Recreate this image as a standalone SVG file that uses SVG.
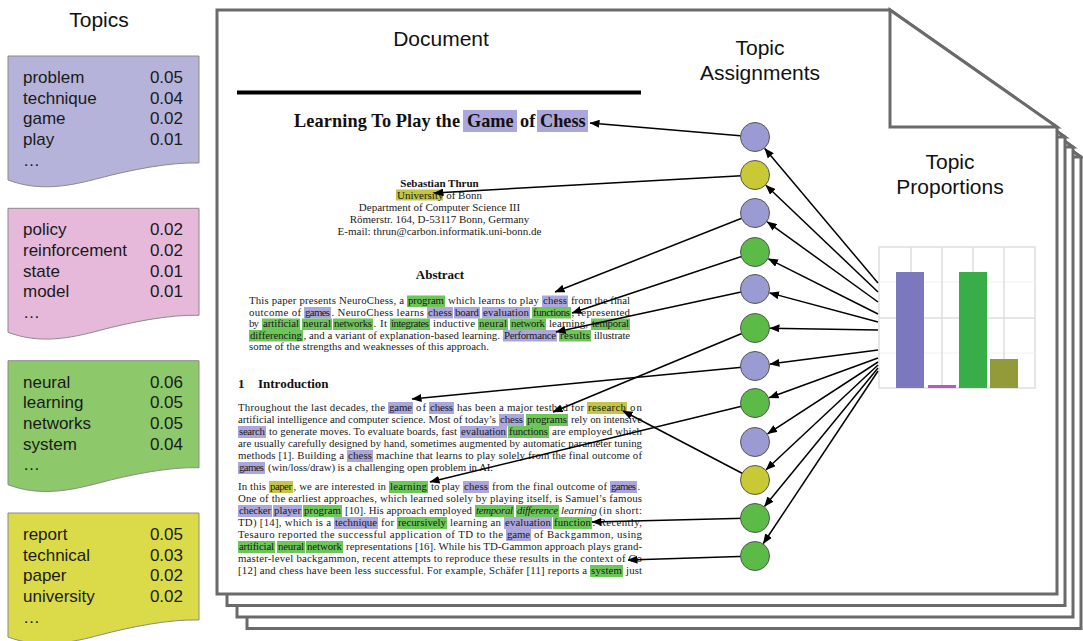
<svg xmlns="http://www.w3.org/2000/svg" width="1083" height="641" viewBox="0 0 1083 641">
<defs>
<marker id="ah" viewBox="0 0 10 8" refX="9.5" refY="4" markerWidth="10" markerHeight="8" markerUnits="userSpaceOnUse" orient="auto"><path d="M0,0 L10,4 L0,8 z" fill="#000"/></marker>
<path id="card" d="M8,0 H199 V107 C170,106 130,114 100,122 C70,130 40,136 8,124 Z"/>
</defs>
<style>
.pg{fill:#fff;stroke:#6a6a6a;stroke-width:3;stroke-linejoin:miter}
.hd{font-family:"Liberation Sans",Arial,sans-serif;font-size:21px;fill:#111}
.tw{font-family:"Liberation Sans",Arial,sans-serif;font-size:17px;fill:#1a1a1a}
.tn{font-family:"Liberation Sans",Arial,sans-serif;font-size:17px;fill:#1a1a1a;text-anchor:end}
.cd{stroke:#8a8a8a;stroke-width:1}
.d{font-family:"Liberation Serif","Times New Roman",serif;font-size:10.8px;fill:#1a1a1a}
.db{font-family:"Liberation Serif","Times New Roman",serif;font-weight:bold;fill:#111}
.dc{font-family:"Liberation Serif","Times New Roman",serif;font-size:11px;fill:#1a1a1a;text-anchor:middle}
.it{font-style:italic}
.hp{fill:#aba7dc}
.hg{fill:#6cc658}
.hy{fill:#c4c446}
.cn{stroke:#000;stroke-width:1.5;fill:none;marker-end:url(#ah)}
.cp{fill:#9b9bd3;stroke:#555;stroke-width:1}
.cy{fill:#c9c935;stroke:#555;stroke-width:1}
.cg{fill:#5cba47;stroke:#555;stroke-width:1}
.gr{stroke:#dedede;stroke-width:1.5;fill:none}
.gf{stroke:#f0f0f0;stroke-width:1;fill:none}
</style>

<g id="pages">
<polygon class="pg" points="247,40 914,40 1081,157 1081,628.5 247,628.5"/>
<polygon class="pg" points="914,40 914,157 1081,157"/>
<polygon class="pg" points="237,30 906,30 1073,147 1073,617 237,617"/>
<polygon class="pg" points="906,30 906,147 1073,147"/>
<polygon class="pg" points="227,20 898,20 1065,137 1065,605.5 227,605.5"/>
<polygon class="pg" points="898,20 898,137 1065,137"/>
<polygon class="pg" points="217,10 890,10 1057,127 1057,594 217,594"/>
<polygon class="pg" points="890,10 890,127 1057,127"/>
</g>

<text class="hd" x="99" y="27" text-anchor="middle">Topics</text>
<text class="hd" x="441" y="46" text-anchor="middle">Document</text>
<text class="hd" x="760" y="55" text-anchor="middle">Topic</text>
<text class="hd" x="760" y="80" text-anchor="middle">Assignments</text>
<text class="hd" x="950" y="169" text-anchor="middle">Topic</text>
<text class="hd" x="950" y="194" text-anchor="middle">Proportions</text>

<g id="topic1" transform="translate(0,56)">
<use href="#card" class="cd" fill="#b6b3da"/>
<text class="tw" x="23" y="27">problem</text><text class="tn" x="183" y="27">0.05</text>
<text class="tw" x="23" y="47.7">technique</text><text class="tn" x="183" y="47.7">0.04</text>
<text class="tw" x="23" y="68.4">game</text><text class="tn" x="183" y="68.4">0.02</text>
<text class="tw" x="23" y="89.1">play</text><text class="tn" x="183" y="89.1">0.01</text>
<text class="tw" x="23" y="109.8">…</text>
</g>
<g id="topic2" transform="translate(0,208.3)">
<use href="#card" class="cd" fill="#e6b9da"/>
<text class="tw" x="23" y="27">policy</text><text class="tn" x="183" y="27">0.02</text>
<text class="tw" x="23" y="47.7">reinforcement</text><text class="tn" x="183" y="47.7">0.02</text>
<text class="tw" x="23" y="68.4">state</text><text class="tn" x="183" y="68.4">0.01</text>
<text class="tw" x="23" y="89.1">model</text><text class="tn" x="183" y="89.1">0.01</text>
<text class="tw" x="23" y="109.8">…</text>
</g>
<g id="topic3" transform="translate(0,360.7)">
<use href="#card" class="cd" fill="#8dc96b"/>
<text class="tw" x="23" y="27">neural</text><text class="tn" x="183" y="27">0.06</text>
<text class="tw" x="23" y="47.7">learning</text><text class="tn" x="183" y="47.7">0.05</text>
<text class="tw" x="23" y="68.4">networks</text><text class="tn" x="183" y="68.4">0.05</text>
<text class="tw" x="23" y="89.1">system</text><text class="tn" x="183" y="89.1">0.04</text>
<text class="tw" x="23" y="109.8">…</text>
</g>
<g id="topic4" transform="translate(0,513)">
<use href="#card" class="cd" fill="#dbdb4a"/>
<text class="tw" x="23" y="27">report</text><text class="tn" x="183" y="27">0.05</text>
<text class="tw" x="23" y="47.7">technical</text><text class="tn" x="183" y="47.7">0.03</text>
<text class="tw" x="23" y="68.4">paper</text><text class="tn" x="183" y="68.4">0.02</text>
<text class="tw" x="23" y="89.1">university</text><text class="tn" x="183" y="89.1">0.02</text>
<text class="tw" x="23" y="109.8">…</text>
</g>

<g id="document">
<rect x="237" y="90.5" width="404" height="4" fill="#000"/>
<!-- title -->
<rect class="hp" x="463" y="110" width="54" height="22"/>
<rect class="hp" x="537" y="110" width="51" height="22"/>
<text class="db" font-size="18.3" x="294" y="127" textLength="166">Learning To Play the</text>
<text class="db" font-size="18.3" x="467" y="127">Game</text>
<text class="db" font-size="18.3" x="520" y="127">of</text>
<text class="db" font-size="18.3" x="540" y="127">Chess</text>
<!-- author -->
<rect class="hy" x="396" y="189.5" width="47" height="11"/>
<text class="db" font-size="11" x="439.5" y="187" text-anchor="middle">Sebastian Thrun</text>
<text class="dc" x="439.5" y="199">University of Bonn</text>
<text class="dc" x="439.5" y="211">Department of Computer Science III</text>
<text class="dc" x="439.5" y="223">Römerstr. 164, D-53117 Bonn, Germany</text>
<text class="dc" x="439.5" y="235">E-mail: thrun@carbon.informatik.uni-bonn.de</text>
<!-- abstract -->
<text class="db" font-size="13" x="440" y="279" text-anchor="middle">Abstract</text>
<rect class="hg" x="407" y="295.5" width="38" height="11.5"/>
<rect class="hp" x="542" y="295.5" width="26" height="11.5"/>
<rect class="hp" x="304" y="307" width="27" height="11.5"/>
<rect class="hp" x="427" y="307" width="26" height="11.5"/>
<rect class="hp" x="454" y="307" width="26" height="11.5"/>
<rect class="hp" x="482" y="307" width="48" height="11.5"/>
<rect class="hg" x="532" y="307" width="39" height="11.5"/>
<rect class="hg" x="262" y="318.5" width="38" height="11.5"/>
<rect class="hg" x="302" y="318.5" width="30" height="11.5"/>
<rect class="hg" x="333" y="318.5" width="40" height="11.5"/>
<rect class="hg" x="390" y="318.5" width="40" height="11.5"/>
<rect class="hg" x="478" y="318.5" width="30" height="11.5"/>
<rect class="hg" x="510" y="318.5" width="36" height="11.5"/>
<rect class="hg" x="591" y="318.5" width="39" height="11.5"/>
<rect class="hg" x="249" y="330" width="54" height="11.5"/>
<rect class="hp" x="503" y="330" width="54" height="11.5"/>
<rect class="hg" x="559" y="330" width="32" height="11.5"/>

<text class="d" x="249" y="304" textLength="155">This paper presents NeuroChess, a</text>
<text class="d" x="408" y="304" textLength="36">program</text>
<text class="d" x="448" y="304" textLength="91">which learns to play</text>
<text class="d" x="543" y="304" textLength="24">chess</text>
<text class="d" x="571" y="304" textLength="59">from the final</text>

<text class="d" x="249" y="315.5" textLength="52">outcome of</text>
<text class="d" x="305" y="315.5" textLength="25">games</text>
<text class="d" x="331.5" y="315.5" textLength="92.5">.  NeuroChess learns</text>
<text class="d" x="428" y="315.5" textLength="24">chess</text>
<text class="d" x="455" y="315.5" textLength="24">board</text>
<text class="d" x="483" y="315.5" textLength="46">evaluation</text>
<text class="d" x="533" y="315.5" textLength="37">functions</text>
<text class="d" x="571.5" y="315.5" textLength="58.5">, represented</text>

<text class="d" x="249" y="327" textLength="10">by</text>
<text class="d" x="263" y="327" textLength="36">artificial</text>
<text class="d" x="303" y="327" textLength="28">neural</text>
<text class="d" x="334" y="327" textLength="38">networks</text>
<text class="d" x="373.5" y="327" textLength="13.5">.  It</text>
<text class="d" x="391" y="327" textLength="38">integrates</text>
<text class="d" x="433" y="327" textLength="42">inductive</text>
<text class="d" x="479" y="327" textLength="28">neural</text>
<text class="d" x="511" y="327" textLength="34">network</text>
<text class="d" x="549" y="327" textLength="39">learning,</text>
<text class="d" x="592" y="327" textLength="37">temporal</text>

<text class="d" x="250" y="338.5" textLength="52">differencing</text>
<text class="d" x="303.5" y="338.5" textLength="196.5">, and a variant of explanation-based learning.</text>
<text class="d" x="504" y="338.5" textLength="52">Performance</text>
<text class="d" x="560" y="338.5" textLength="30">results</text>
<text class="d" x="594" y="338.5" textLength="36">illustrate</text>

<text class="d" x="249" y="350" textLength="240">some of the strengths and weaknesses of this approach.</text>

<!-- introduction -->
<text class="db" font-size="13" x="238" y="388">1</text>
<text class="db" font-size="13" x="258" y="388">Introduction</text>

<rect class="hp" x="388" y="402" width="25" height="12"/>
<rect class="hp" x="429" y="402" width="25" height="12"/>
<rect class="hy" x="587" y="402" width="40" height="12"/>
<rect class="hp" x="499" y="414" width="25" height="12"/>
<rect class="hg" x="526" y="414" width="42" height="12"/>
<rect class="hp" x="238" y="426" width="28" height="12"/>
<rect class="hp" x="460" y="426" width="47" height="12"/>
<rect class="hg" x="508" y="426" width="41" height="12"/>
<rect class="hp" x="347" y="450" width="26" height="12"/>
<rect class="hp" x="238" y="462" width="27" height="12"/>

<text class="d" x="238" y="411" textLength="147">Throughout the last decades, the</text>
<text class="d" x="389" y="411" textLength="23">game</text>
<text class="d" x="416" y="411" textLength="10">of</text>
<text class="d" x="430" y="411" textLength="23">chess</text>
<text class="d" x="457" y="411" textLength="127">has been a major testbed for</text>
<text class="d" x="588" y="411" textLength="38">research</text>
<text class="d" x="630" y="411" textLength="12">on</text>

<text class="d" x="238" y="423" textLength="258">artificial intelligence and computer science.  Most of today’s</text>
<text class="d" x="500" y="423" textLength="23">chess</text>
<text class="d" x="527" y="423" textLength="40">programs</text>
<text class="d" x="571" y="423" textLength="71">rely on intensive</text>

<text class="d" x="239" y="435" textLength="26">search</text>
<text class="d" x="269" y="435" textLength="188">to generate moves.  To evaluate boards, fast</text>
<text class="d" x="461" y="435" textLength="45">evaluation</text>
<text class="d" x="509" y="435" textLength="39">functions</text>
<text class="d" x="552" y="435" textLength="90">are employed which</text>

<text class="d" x="238" y="447" textLength="404">are usually carefully designed by hand, sometimes augmented by automatic parameter tuning</text>

<text class="d" x="238" y="459" textLength="106">methods [1].  Building a</text>
<text class="d" x="348" y="459" textLength="24">chess</text>
<text class="d" x="376" y="459" textLength="266">machine that learns to play solely from the final outcome of</text>

<text class="d" x="239" y="471" textLength="25">games</text>
<text class="d" x="268" y="471" textLength="225">(win/loss/draw) is a challenging open problem in AI.</text>

<rect class="hy" x="269" y="481" width="24" height="12"/>
<rect class="hg" x="389" y="481" width="39" height="12"/>
<rect class="hp" x="463" y="481" width="26" height="12"/>
<rect class="hp" x="610" y="481" width="27" height="12"/>
<rect class="hp" x="238" y="505" width="34" height="12"/>
<rect class="hp" x="273" y="505" width="29" height="12"/>
<rect class="hg" x="303" y="505" width="39" height="12"/>
<rect class="hg" x="475" y="505" width="39" height="12"/>
<rect class="hg" x="516" y="505" width="43" height="12"/>
<rect class="hp" x="334" y="517" width="44" height="12"/>
<rect class="hg" x="397" y="517" width="50" height="12"/>
<rect class="hp" x="504" y="517" width="48" height="12"/>
<rect class="hg" x="553" y="517" width="39" height="12"/>
<rect class="hp" x="506" y="529" width="25" height="12"/>
<rect class="hg" x="238" y="541" width="37" height="12"/>
<rect class="hg" x="277" y="541" width="28" height="12"/>
<rect class="hg" x="306" y="541" width="37" height="12"/>
<rect class="hg" x="590" y="565" width="33" height="12"/>

<text class="d" x="238" y="490" textLength="28">In this</text>
<text class="d" x="270" y="490" textLength="22">paper</text>
<text class="d" x="293.5" y="490" textLength="92.5">, we are interested in</text>
<text class="d" x="390" y="490" textLength="37">learning</text>
<text class="d" x="431" y="490" textLength="29">to play</text>
<text class="d" x="464" y="490" textLength="24">chess</text>
<text class="d" x="492" y="490" textLength="115">from the final outcome of</text>
<text class="d" x="611" y="490" textLength="25">games</text>
<text class="d" x="637.5" y="490">.</text>

<text class="d" x="238" y="502" textLength="404">One of the earliest approaches, which learned solely by playing itself, is Samuel’s famous</text>

<text class="d" x="239" y="514" textLength="32">checker</text>
<text class="d" x="274" y="514" textLength="27">player</text>
<text class="d" x="304" y="514" textLength="37">program</text>
<text class="d" x="345" y="514" textLength="127">[10].  His approach employed</text>
<text class="d it" x="476" y="514" textLength="37">temporal</text>
<text class="d it" x="517" y="514" textLength="41">difference</text>
<text class="d it" x="561" y="514" textLength="36">learning</text>
<text class="d" x="599" y="514" textLength="43">(in short:</text>

<text class="d" x="238" y="526" textLength="93">TD) [14], which is a</text>
<text class="d" x="335" y="526" textLength="42">technique</text>
<text class="d" x="381" y="526" textLength="13">for</text>
<text class="d" x="398" y="526" textLength="48">recursively</text>
<text class="d" x="450" y="526" textLength="51">learning an</text>
<text class="d" x="505" y="526" textLength="46">evaluation</text>
<text class="d" x="554" y="526" textLength="37">function</text>
<text class="d" x="592.5" y="526" textLength="49.5">.  Recently,</text>

<text class="d" x="238" y="538" textLength="265">Tesauro reported the successful application of TD to the</text>
<text class="d" x="507" y="538" textLength="23">game</text>
<text class="d" x="534" y="538" textLength="108">of Backgammon, using</text>

<text class="d" x="239" y="550" textLength="35">artificial</text>
<text class="d" x="278" y="550" textLength="26">neural</text>
<text class="d" x="307" y="550" textLength="35">network</text>
<text class="d" x="346" y="550" textLength="296">representations [16].  While his TD-Gammon approach plays grand-</text>

<text class="d" x="238" y="562" textLength="404">master-level backgammon, recent attempts to reproduce these results in the context of Go</text>

<text class="d" x="238" y="574" textLength="349">[12] and chess have been less successful.  For example, Schäfer [11] reports a</text>
<text class="d" x="591" y="574" textLength="31">system</text>
<text class="d" x="626" y="574" textLength="16">just</text>
</g>

<g id="proportions">
<rect class="gr" x="879" y="247" width="156" height="141"/>
<line class="gf" x1="879" y1="282" x2="1035" y2="282"/>
<line class="gf" x1="879" y1="353" x2="1035" y2="353"/>
<line class="gr" x1="879" y1="318" x2="1035" y2="318"/>
<line class="gr" x1="911" y1="247" x2="911" y2="388"/>
<line class="gr" x1="942" y1="247" x2="942" y2="388"/>
<line class="gr" x1="973" y1="247" x2="973" y2="388"/>
<line class="gr" x1="1004" y1="247" x2="1004" y2="388"/>
<rect x="896" y="272" width="28" height="116" fill="#7b78bd"/>
<rect x="928" y="385" width="28" height="3" fill="#b45cbc"/>
<rect x="959" y="272" width="28" height="116" fill="#39ae48"/>
<rect x="990" y="359" width="28" height="29" fill="#939a3a"/>
</g>

<g id="connectors">
<line class="cn" x1="755" y1="137" x2="590" y2="123"/>
<line class="cn" x1="755" y1="175" x2="434" y2="193"/>
<line class="cn" x1="755" y1="213" x2="555" y2="292"/>
<line class="cn" x1="755" y1="252" x2="572" y2="313"/>
<line class="cn" x1="755" y1="289" x2="556" y2="332"/>
<line class="cn" x1="755" y1="328" x2="553" y2="412"/>
<line class="cn" x1="755" y1="366" x2="412" y2="399"/>
<line class="cn" x1="755" y1="403" x2="430" y2="482"/>
<line class="cn" x1="755" y1="480" x2="623" y2="411"/>
<line class="cn" x1="755" y1="518" x2="592" y2="522"/>
<line class="cn" x1="755" y1="556" x2="628" y2="560"/>
<line class="cn" x1="878" y1="283" x2="764.7" y2="148.5"/>
<line class="cn" x1="878" y1="292" x2="765.9" y2="185.3"/>
<line class="cn" x1="878" y1="302" x2="767.2" y2="221.8"/>
<line class="cn" x1="878" y1="314" x2="768.4" y2="258.8"/>
<line class="cn" x1="878" y1="322" x2="769.5" y2="292.9"/>
<line class="cn" x1="878" y1="330" x2="770" y2="328.2"/>
<line class="cn" x1="878" y1="350" x2="769.9" y2="364.1"/>
<line class="cn" x1="878" y1="358" x2="769.1" y2="397.8"/>
<line class="cn" x1="878" y1="362" x2="767.6" y2="433.8"/>
<line class="cn" x1="878" y1="365" x2="766" y2="469.8"/>
<line class="cn" x1="878" y1="368" x2="764.5" y2="506.4"/>
<line class="cn" x1="878" y1="371" x2="763.3" y2="543.5"/>
</g>

<g id="assignments">
<circle id="z1" class="cp" cx="755" cy="137" r="14.5"/>
<circle id="z2" class="cy" cx="755" cy="175" r="14.5"/>
<circle id="z3" class="cp" cx="755" cy="213" r="14.5"/>
<circle id="z4" class="cg" cx="755" cy="252" r="14.5"/>
<circle id="z5" class="cp" cx="755" cy="289" r="14.5"/>
<circle id="z6" class="cg" cx="755" cy="328" r="14.5"/>
<circle id="z7" class="cp" cx="755" cy="366" r="14.5"/>
<circle id="z8" class="cg" cx="755" cy="403" r="14.5"/>
<circle id="z9" class="cp" cx="755" cy="442" r="14.5"/>
<circle id="z10" class="cy" cx="755" cy="480" r="14.5"/>
<circle id="z11" class="cg" cx="755" cy="518" r="14.5"/>
<circle id="z12" class="cg" cx="755" cy="556" r="14.5"/>
</g>
</svg>
